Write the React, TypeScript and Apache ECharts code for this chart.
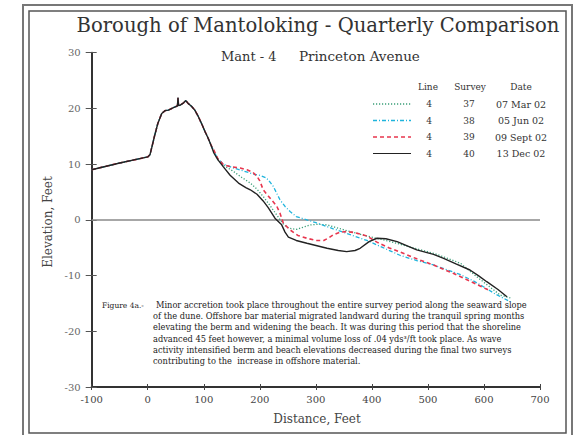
import React, { useEffect, useRef } from "react";
import * as echarts from "echarts";

const FONT = '"DejaVu Serif", serif';

const X_MIN = -100;
const X_MAX = 700;
const X_STEP = 100;
const Y_MIN = -30;
const Y_MAX = 30;
const Y_STEP = 10;

// shared dune profile (all surveys coincide here)
const dune: number[][] = [
  [-100, 9], [-50, 10.2], [0, 11.3], [4, 11.7], [7, 12.9], [12, 15], [18, 17.3],
  [25, 19.1], [31, 19.6], [37, 19.7], [43, 20], [52, 20.4], [53, 20.5], [54, 21.9],
  [55, 20.5], [58, 20.6], [64, 21], [68, 21.4], [72, 20.9], [78, 20.4], [84, 19.7],
  [90, 18.6], [96, 17.3], [102, 15.9], [108, 14.6], [113, 13.4],
];

const tail37: number[][] = [
  [118, 12.2], [125, 10.8], [135, 9.8], [153, 8.7], [168, 7.6], [183, 6.6], [195, 5.5],
  [206, 4.2], [218, 2.6], [230, 0.9], [240, -0.5], [248, -1.3], [257, -1.6], [266, -1.7],
  [278, -1.3], [290, -0.9], [305, -0.8], [320, -0.9], [340, -1.5], [361, -2.1], [391, -2.9],
  [421, -3.6], [451, -4.4], [480, -5.2], [510, -6.0], [535, -6.9], [558, -7.8], [575, -9.2],
  [587, -10.2], [610, -12], [629, -13.5], [647, -14],
];

const tail38: number[][] = [
  [118, 12.3], [125, 11], [135, 10], [153, 9.3], [170, 8.8], [189, 8.2], [200, 8.0],
  [212, 7.5], [218, 6.8], [224, 6.0], [230, 4.8], [236, 3.6], [245, 2.4], [254, 1.5],
  [265, 0.6], [284, 0], [300, -0.5], [331, -1.6], [360, -2.6], [391, -3.7], [420, -5.0],
  [451, -6.4], [480, -7.3], [510, -8.1], [535, -9.0], [557, -9.8], [580, -10.9], [599, -12],
  [620, -13.3], [647, -14.7],
];

const tail39: number[][] = [
  [118, 12.5], [125, 11], [135, 9.9], [150, 9.5], [165, 9.3], [177, 9], [188, 8.5],
  [195, 7.8], [200, 7.0], [206, 5.4], [215, 4.3], [230, 2.5], [236, 1.2], [242, -0.6],
  [254, -1.8], [268, -2.8], [284, -3.3], [300, -3.7], [314, -3.7], [322, -3.3], [331, -2.7],
  [343, -2.2], [355, -2.1], [370, -2.3], [391, -2.9], [409, -4.0], [430, -5.0], [451, -5.8],
  [480, -7.0], [510, -8.1], [545, -9.6], [575, -11], [610, -12.7],
];

const tail40: number[][] = [
  [118, 12], [125, 10.8], [135, 9.5], [147, 8], [162, 6.6], [175, 5.8], [183, 5.4],
  [195, 4.6], [206, 3.4], [215, 2.2], [227, 0.3], [239, -0.9], [245, -2.2], [251, -3.1],
  [265, -3.7], [284, -4.2], [320, -5.1], [340, -5.5], [355, -5.7], [370, -5.5], [379, -5.1],
  [395, -3.9], [409, -3.3], [425, -3.4], [445, -3.9], [480, -5.4], [510, -6.2], [528, -6.9],
  [550, -7.9], [575, -9], [590, -10], [605, -11.1], [625, -12.5], [641, -13.8],
];

const surveyLines = ["4", "4", "4", "4"];
const surveyNums = ["37", "38", "39", "40"];
const surveyDates = ["07 Mar 02", "05 Jun 02", "09 Sept 02", "13 Dec 02"];
const surveyColors = ["#3a9e78", "#1fb4dc", "#e8364e", "#222222"];
const surveyDash: (number[] | null)[] = [[1.2, 1.8], [4, 2, 1, 2], [4, 3], null];
const surveyTails = [tail37, tail38, tail39, tail40];

const captionLines = [
  "Minor accretion took place throughout the entire survey period along the seaward slope",
  "of the dune. Offshore bar material migrated landward during the tranquil spring months",
  "elevating the berm and widening the beach. It was during this period that the shoreline",
  "advanced 45 feet however, a minimal volume loss of .04 yds\u00b3/ft took place. As wave",
  "activity intensified berm and beach elevations decreased during the final two surveys",
  "contributing to the  increase in offshore material.",
];

export default function App() {
  const ref = useRef<HTMLDivElement>(null);
  useEffect(() => {
    if (!ref.current) return;
    const chart = echarts.init(ref.current, undefined, { renderer: "svg" });

    const series: any[] = surveyTails.map((tail, i) => ({
      type: "line",
      name: surveyNums[i],
      data: dune.concat(tail),
      showSymbol: false,
      symbol: "none",
      xAxisIndex: 0,
      yAxisIndex: 0,
      z: 3 + i,
      lineStyle: {
        color: surveyColors[i],
        width: i === 3 ? 1.4 : i === 2 ? 1.6 : 1.3,
        type: surveyDash[i] ? surveyDash[i] : "solid",
      },
      markLine:
        i === 0
          ? {
              silent: true,
              symbol: "none",
              label: { show: false },
              lineStyle: { color: "#8a8a8a", width: 1.5, type: "solid" },
              data: [{ yAxis: 0 }],
              z: 1,
            }
          : undefined,
    }));

    const graphics: any[] = [
      // frame
      { type: "rect", shape: { x: 23, y: 5, width: 549, height: 440 }, style: { fill: "none", stroke: "#777", lineWidth: 2 } },
      { type: "rect", shape: { x: 29, y: 11, width: 537, height: 422 }, style: { fill: "none", stroke: "#555", lineWidth: 1.5 } },
      // title
      { type: "text", x: 318, y: 25, style: { text: "Borough of Mantoloking - Quarterly Comparison", fontFamily: FONT, fontSize: 19.6, fill: "#333", align: "center", verticalAlign: "middle" } },
      { type: "text", x: 221, y: 56, style: { text: "Mant - 4", fontFamily: FONT, fontSize: 13, fill: "#333", align: "left", verticalAlign: "middle" } },
      { type: "text", x: 299, y: 56, style: { text: "Princeton Avenue", fontFamily: FONT, fontSize: 13.5, fill: "#333", align: "left", verticalAlign: "middle" } },
      // axis names
      { type: "text", x: 48, y: 222, rotation: Math.PI / 2, style: { text: "Elevation, Feet", fontFamily: FONT, fontSize: 12, fill: "#444", align: "center", verticalAlign: "middle" } },
      { type: "text", x: 317, y: 419, style: { text: "Distance, Feet", fontFamily: FONT, fontSize: 12, fill: "#444", align: "center", verticalAlign: "middle" } },
      // legend headers
      { type: "text", x: 428, y: 87, style: { text: "Line", fontFamily: FONT, fontSize: 9, fill: "#333", align: "center", verticalAlign: "middle" } },
      { type: "text", x: 470, y: 87, style: { text: "Survey", fontFamily: FONT, fontSize: 9, fill: "#333", align: "center", verticalAlign: "middle" } },
      { type: "text", x: 521, y: 87, style: { text: "Date", fontFamily: FONT, fontSize: 9, fill: "#333", align: "center", verticalAlign: "middle" } },
      // caption
      { type: "text", x: 102, y: 305, style: { text: "Figure 4a.-", fontFamily: FONT, fontSize: 7.5, fill: "#222", align: "left", verticalAlign: "middle" } },
    ];

    surveyNums.forEach((n, i) => {
      const y = 104 + i * 16.5;
      graphics.push({
        type: "line",
        shape: { x1: 373, y1: y, x2: 411, y2: y },
        style: { stroke: surveyColors[i], lineWidth: i === 3 ? 1.2 : 1.3, lineDash: surveyDash[i] || null },
      });
      graphics.push({ type: "text", x: 429, y, style: { text: surveyLines[i], fontFamily: FONT, fontSize: 9, fill: "#333", align: "center", verticalAlign: "middle" } });
      graphics.push({ type: "text", x: 469, y, style: { text: n, fontFamily: FONT, fontSize: 9, fill: "#333", align: "center", verticalAlign: "middle" } });
      graphics.push({ type: "text", x: 521, y, style: { text: surveyDates[i], fontFamily: FONT, fontSize: 9.5, fill: "#333", align: "center", verticalAlign: "middle" } });
    });

    captionLines.forEach((t, i) => {
      graphics.push({
        type: "text",
        x: i === 0 ? 156 : 153,
        y: 305 + i * 11.2,
        style: { text: t, fontFamily: FONT, fontSize: 8.25, fill: "#222", align: "left", verticalAlign: "middle" },
      });
    });

    const xBase = { type: "value", min: X_MIN, max: X_MAX, interval: X_STEP, position: "bottom", splitLine: { show: false } };
    const yBase = { type: "value", min: Y_MIN, max: Y_MAX, interval: Y_STEP, position: "left", splitLine: { show: false } };

    chart.setOption({
      animation: false,
      backgroundColor: "#ffffff",
      grid: { left: 91.7, right: 34, top: 52.7, bottom: 48, containLabel: false },
      xAxis: [
        {
          ...xBase,
          axisLine: { show: true, onZero: false, lineStyle: { color: "#333", width: 2 } },
          axisTick: { show: true, inside: false, length: 3, lineStyle: { color: "#444", width: 1 } },
          axisLabel: { margin: 7, color: "#444", fontFamily: FONT, fontSize: 10 },
        },
        {
          ...xBase,
          axisLine: { show: false, onZero: false },
          axisTick: { show: true, inside: true, length: 3, lineStyle: { color: "#444", width: 1 } },
          axisLabel: { show: false },
        },
      ],
      yAxis: [
        {
          ...yBase,
          axisLine: { show: true, onZero: false, lineStyle: { color: "#333", width: 2 } },
          axisTick: { show: true, inside: false, length: 6, lineStyle: { color: "#555", width: 1 } },
          axisLabel: { margin: 11, color: "#666", fontFamily: FONT, fontSize: 10 },
        },
        {
          ...yBase,
          axisLine: { show: false, onZero: false },
          axisTick: { show: true, inside: true, length: 5, lineStyle: { color: "#555", width: 1 } },
          axisLabel: { show: false },
        },
      ],
      series,
      graphic: graphics,
    });

    return () => chart.dispose();
  }, []);

  return (
    <div
      ref={ref}
      style={{ position: "fixed", left: 0, top: 0, width: 574, height: 435, background: "#fff" }}
    />
  );
}
